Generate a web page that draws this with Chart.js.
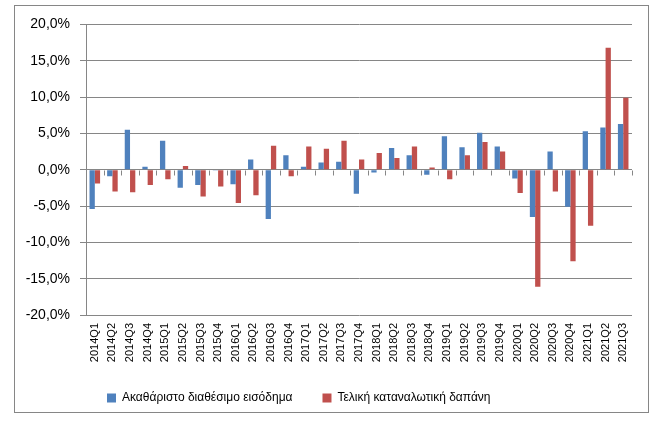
<!DOCTYPE html>
<html>
<head>
<meta charset="utf-8">
<script src="https://cdn.jsdelivr.net/npm/chart.js@4"></script>
<style>
  html, body { margin: 0; padding: 0; background: #fff; }
  #frame { position: absolute; left: 14px; top: 5px; width: 633px; height: 406px; border: 1px solid #868686; }
  canvas { display: block; }
</style>
</head>
<body>
<div id="frame"><canvas id="c" width="633" height="406"></canvas></div>
<script>
const categories = ["2014Q1","2014Q2","2014Q3","2014Q4","2015Q1","2015Q2","2015Q3","2015Q4",
  "2016Q1","2016Q2","2016Q3","2016Q4","2017Q1","2017Q2","2017Q3","2017Q4",
  "2018Q1","2018Q2","2018Q3","2018Q4","2019Q1","2019Q2","2019Q3","2019Q4",
  "2020Q1","2020Q2","2020Q3","2020Q4","2021Q1","2021Q2","2021Q3"];
const seriesNames = ["Ακαθάριστο διαθέσιμο εισόδημα", "Τελική καταναλωτική δαπάνη"];
const incomeValues = [-5.4,-0.9,5.5,0.4, 4.0,-2.5,-2.1,-0.1, -2.0,1.4,-6.8,2.0, 0.4,1.0,1.1,-3.3,
  -0.4,3.0,2.0,-0.7, 4.6,3.1,5.1,3.2, -1.2,-6.5,2.5,-5.1, 5.3,5.8,6.3];
const spendingValues = [-1.9,-3.0,-3.1,-2.1, -1.3,0.5,-3.7,-2.3, -4.6,-3.5,3.3,-0.9, 3.2,2.9,4.0,1.4,
  2.3,1.6,3.2,0.3, -1.3,2.0,3.8,2.5, -3.2,-16.1,-3.0,-12.6, -7.7,16.8,9.9];
const yTicks = [-20,-15,-10,-5,0,5,10,15,20];

const gridColor = '#868686';
const FONT = 'Liberation Sans';

const zeroTicks = {
  id: 'zeroTicks',
  afterDatasetsDraw(chart) {
    const xs = chart.scales.x, ys = chart.scales.y, ctx = chart.ctx;
    const y0 = Math.round(ys.getPixelForValue(0)) + 0.5;
    const n = categories.length;
    ctx.save();
    ctx.strokeStyle = gridColor;
    ctx.lineWidth = 1;
    ctx.beginPath();
    for (let i = 1; i <= n; i++) {
      const x = Math.round(xs.left + i * xs.width / n) + 0.5;
      ctx.moveTo(x, y0);
      ctx.lineTo(x, y0 + 5);
    }
    ctx.stroke();
    ctx.restore();
  }
};

const legendPlace = {
  id: 'legendPlace',
  beforeLayout(chart) {
    const lg = chart.legend;
    if (lg && !lg._patched) {
      const origFit = lg.fit.bind(lg);
      lg.fit = function () { origFit(); this.height = 32; };
      lg._patched = true;
    }
  },
  afterUpdate(chart) {
    const lg = chart.legend;
    if (lg) {
      lg.left = 62;
      lg.top = 356;
      lg.bottom = chart.height;
      lg.right = chart.width;
    }
  }
};

new Chart(document.getElementById('c'), {
  type: 'bar',
  data: {
    labels: categories,
    datasets: [
      { label: seriesNames[0], data: incomeValues, backgroundColor: '#4F81BD', borderWidth: 0 },
      { label: seriesNames[1], data: spendingValues, backgroundColor: '#C0504D', borderWidth: 0 }
    ]
  },
  options: {
    responsive: false,
    animation: false,
    devicePixelRatio: 1,
    layout: { padding: { top: 17, right: 16, left: 0, bottom: 0 } },
    datasets: { bar: { categoryPercentage: 0.6, barPercentage: 1.0 } },
    plugins: {
      legend: {
        position: 'bottom',
        align: 'start',
        labels: { boxWidth: 9, boxHeight: 9, padding: 30, color: '#000', font: { family: FONT, size: 12 } }
      },
      tooltip: { enabled: false }
    },
    scales: {
      x: {
        grid: { display: false, drawTicks: false },
        border: { display: false },
        ticks: { minRotation: 90, maxRotation: 90, autoSkip: false, padding: 8, color: '#000', font: { family: FONT, size: 11 } },
        afterFit(scale) { scale.height = 65; }
      },
      y: {
        min: -20, max: 20,
        afterBuildTicks(scale) { scale.ticks = yTicks.map(v => ({ value: v })); },
        grid: { color: gridColor, lineWidth: 1, drawTicks: true, tickLength: 6 },
        border: { display: true, color: gridColor, width: 1 },
        ticks: {
          padding: 10, color: '#000', font: { family: FONT, size: 14 },
          callback: v => v.toFixed(1).replace('.', ',') + '%'
        },
        afterFit(scale) { scale.width = 71; }
      }
    }
  },
  plugins: [zeroTicks, legendPlace]
});
</script>
</body>
</html>
